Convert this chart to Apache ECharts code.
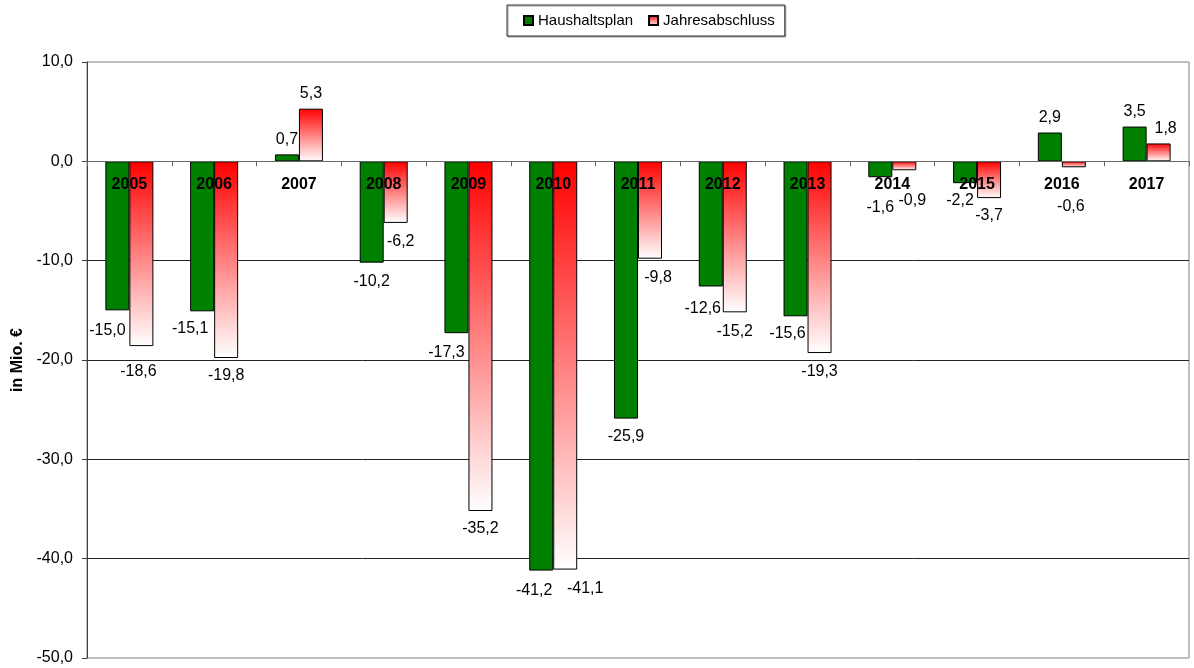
<!DOCTYPE html>
<html>
<head>
<meta charset="utf-8">
<script src="https://cdn.jsdelivr.net/npm/echarts@6/dist/echarts.min.js"></script>
<style>
  html, body { margin: 0; padding: 0; background: #ffffff; }
  #chart { width: 1194px; height: 668px; }
</style>
</head>
<body>
<div id="chart"></div>
<script>
// Jahre
const categories = ['2005', '2006', '2007', '2008', '2009', '2010', '2011', '2012', '2013', '2014', '2015', '2016', '2017'];

// Ergebnis in Mio. €
const haushaltsplan = [-15.0, -15.1, 0.7, -10.2, -17.3, -41.2, -25.9, -12.6, -15.6, -1.6, -2.2, 2.9, 3.5];
const jahresabschluss = [-18.6, -19.8, 5.3, -6.2, -35.2, -41.1, -9.8, -15.2, -19.3, -0.9, -3.7, -0.6, 1.8];

// Y-Achse
const yTicks = { min: -50, max: 10, interval: 10 };

// Versatz der Wertebeschriftungen [x, y] in Pixel
const planLabelShift = [[-10, 1], [-12, -2], [0, 0], [0, 0], [-10, 0], [-7, 1], [0, -1], [-8, 3], [-8, -2], [0, 11], [-5, -2], [0, 0], [0, 0]];
const abschlussLabelShift = [[-3, 7], [0, -1], [0, 0], [5, 0], [0, -1], [20, 0], [8, 0], [0, 0], [0, 0], [8, 11], [0, -1], [-3, 20], [7, 0]];

const FONT = "'Liberation Sans', Arial, sans-serif";
const fmt = v => Number(v).toFixed(1).replace('.', ',');

function buildItems(values, shifts) {
  return values.map((v, i) => ({
    value: v,
    label: {
      position: v < 0 ? 'bottom' : 'top',
      distance: v < 0 ? 11 : 7,
      offset: shifts[i]
    }
  }));
}

const redFade = new echarts.graphic.LinearGradient(0, 0, 0, 1, [
  { offset: 0, color: '#ff0000' },
  { offset: 1, color: '#ffffff' }
]);

const valueLabel = {
  show: true,
  color: '#000',
  fontFamily: FONT,
  fontSize: 16,
  formatter: p => fmt(p.value)
};

const chart = echarts.init(document.getElementById('chart'), null, { renderer: 'canvas' });

chart.setOption({
  animation: false,
  backgroundColor: '#ffffff',
  legend: {
    data: ['Haushaltsplan', 'Jahresabschluss'],
    icon: 'rect',
    left: 507,
    top: 5,
    padding: [8, 10, 8, 16],
    itemWidth: 9,
    itemHeight: 9,
    itemGap: 15,
    borderColor: '#333',
    borderWidth: 1,
    backgroundColor: '#fff',
    shadowColor: '#999',
    shadowOffsetX: 1,
    shadowOffsetY: 1,
    shadowBlur: 0,
    textStyle: { fontFamily: FONT, fontSize: 15, color: '#000' }
  },
  grid: {
    left: 87,
    right: 5,
    top: 62,
    bottom: 10,
    outerBoundsMode: 'none',
    show: true,
    borderColor: '#808080',
    borderWidth: 1,
    backgroundColor: 'transparent'
  },
  xAxis: {
    type: 'category',
    data: categories,
    z: 10,
    axisLine: { onZero: true, lineStyle: { color: '#666', width: 1 } },
    axisTick: { show: true, length: 5, lineStyle: { color: '#666' } },
    axisLabel: { show: false },
    splitLine: { show: false }
  },
  yAxis: {
    type: 'value',
    min: yTicks.min,
    max: yTicks.max,
    interval: yTicks.interval,
    name: 'in Mio. €',
    nameLocation: 'middle',
    nameGap: 55,
    nameTextStyle: { fontFamily: FONT, fontSize: 16, fontWeight: 'bold', color: '#000' },
    axisLine: { show: true, lineStyle: { color: '#404040', width: 1 } },
    axisTick: { show: true, length: 5, lineStyle: { color: '#404040' } },
    axisLabel: {
      margin: 14,
      color: '#000',
      fontFamily: FONT,
      fontSize: 16,
      formatter: v => fmt(v)
    },
    splitLine: {
      show: true,
      showMinLine: false,
      showMaxLine: false,
      lineStyle: { color: '#222', width: 1 }
    }
  },
  series: [
    {
      name: 'Haushaltsplan',
      type: 'bar',
      barWidth: 24,
      barGap: '0%',
      itemStyle: { color: '#008000', borderColor: '#000', borderWidth: 1 },
      label: valueLabel,
      data: buildItems(haushaltsplan, planLabelShift)
    },
    {
      name: 'Jahresabschluss',
      type: 'bar',
      barWidth: 24,
      barGap: '0%',
      itemStyle: { color: redFade, borderColor: '#000', borderWidth: 1 },
      label: valueLabel,
      data: buildItems(jahresabschluss, abschlussLabelShift)
    },
    {
      // Jahreszahlen direkt unter der Nulllinie
      name: 'Jahre',
      type: 'scatter',
      silent: true,
      z: 10,
      symbolSize: 0,
      itemStyle: { opacity: 1, color: '#000' },
      label: {
        show: true,
        position: 'bottom',
        distance: 15,
        color: '#000',
        opacity: 1,
        fontFamily: FONT,
        fontSize: 16,
        fontWeight: 'bold',
        formatter: p => p.name
      },
      data: categories.map(c => ({ name: c, value: [c, 0] }))
    }
  ]
});
</script>
</body>
</html>
